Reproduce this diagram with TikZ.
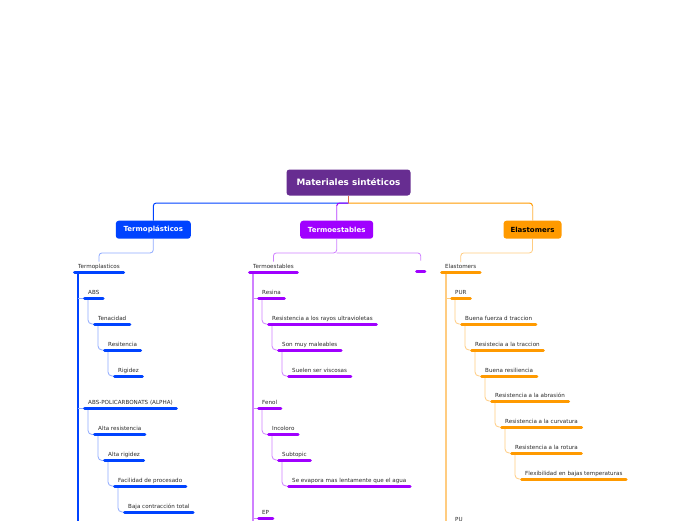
\documentclass[tikz,border=0pt]{standalone}
\usepackage{fontspec}
\setmainfont{DejaVu Sans}
\usetikzlibrary{calc}
\definecolor{rootc}{HTML}{672D91}
\definecolor{bluec}{HTML}{0043FF}
\definecolor{purc}{HTML}{A000FF}
\definecolor{orc}{HTML}{FF9A00}
\definecolor{lblue}{HTML}{8FAAFF}
\definecolor{lpur}{HTML}{CF80FF}
\definecolor{lor}{HTML}{FFCC80}
\definecolor{coral}{HTML}{DD6A4A}
\definecolor{txt}{HTML}{2A2A2A}
\tikzset{
  mainbox/.style={rounded corners=3pt, inner sep=0pt, minimum height=18pt,
    font=\fontsize{7}{8}\selectfont\bfseries},
  rootbox/.style={rounded corners=3pt, fill=rootc, text=white, inner sep=0pt,
    minimum width=124pt, minimum height=26pt, font=\fontsize{8.8}{10}\selectfont\bfseries},
  topic/.style={anchor=south west, inner xsep=5pt, inner ysep=2.3pt,
    text height=4.2pt, text depth=1.3pt, font=\fontsize{5.6}{6}\selectfont, text=txt},
  ul/.style={line width=3pt, line cap=round, shorten <=1.5pt, shorten >=1.5pt},
  thin/.style={line width=0.8pt},
}
\begin{document}
\begin{tikzpicture}[x=1pt,y=-1pt]
\useasboundingbox (0,0) rectangle (696,520);
\clip (0,0) rectangle (696,520);
\fill[white] (0,0) rectangle (696,520);

% main boxes
\node[rootbox] (root) at (348.5,182.5) {Materiales sintéticos};
\node[mainbox, fill=bluec, text=white, minimum width=75pt] (tp) at (153.3,229.7) {Termoplásticos};
\node[mainbox, fill=purc, text=white, minimum width=73pt] (te) at (336.7,229.7) {Termoestables};
\node[mainbox, fill=orc, text=black, minimum width=58pt] (el) at (532.5,229.7) {Elastomers};

\coordinate (hub) at (348.5,203);
\draw[bluec, line width=1pt, rounded corners=3pt] (tp.north) |- (hub);
\draw[purc, line width=1pt, rounded corners=3pt] (te.north) |- (hub);
\draw[lpur, line width=1pt] (te.north) -- ++(0,-15);
\draw[orc, line width=1pt, rounded corners=3pt] (el.north) |- (hub);
\draw[lor, line width=1pt] (el.north) -- ++(0,-15);
\draw[coral, line width=1.2pt] (root.south) -- (hub);

% Termoplasticos column
\node[topic] (tp0) at (73,272) {Termoplasticos};
\node[topic] (tp1) at (83,298) {ABS};
\node[topic] (tp2) at (93,324) {Tenacidad};
\node[topic] (tp3) at (103,350) {Resitencia};
\node[topic] (tp4) at (113,376) {Rigidez};
\node[topic] (tp5) at (83,408.5) {ABS-POLICARBONATS (ALPHA)};
\node[topic] (tp6) at (93,434.5) {Alta resistencia};
\node[topic] (tp7) at (103,460.5) {Alta rigidez};
\node[topic] (tp8) at (113,486) {Facilidad de procesado};
\node[topic] (tp9) at (123,512) {Baja contracción total};

% Termoestables column
\node[topic] (te0) at (248,272) {Termoestables};
\node[topic, minimum width=11pt, inner xsep=0pt] (teb) at (415,271) {};
\node[topic] (te1) at (257,298) {Resina};
\node[topic] (te2) at (267,324) {Resistencia a los rayos ultravioletas};
\node[topic] (te3) at (277,350) {Son muy maleables};
\node[topic] (te4) at (287,376) {Suelen ser viscosas};
\node[topic] (te5) at (257,408.3) {Fenol};
\node[topic] (te6) at (267,434.3) {Incoloro};
\node[topic] (te7) at (277,460) {Subtopic};
\node[topic] (te8) at (287,486) {Se evapora mas lentamente que el agua};
\node[topic] (te9) at (257,518.3) {EP};

% Elastomers column
\node[topic] (el0) at (440,272.5) {Elastomers};
\node[topic] (el1) at (450,298) {PUR};
\node[topic] (el2) at (460,324) {Buena fuerza d traccion};
\node[topic] (el3) at (470,350) {Resistecia a la traccion};
\node[topic] (el4) at (480,376) {Buena resiliencia};
\node[topic] (el5) at (490,401) {Resistencia a la abrasión};
\node[topic] (el6) at (500,427) {Resistencia a la curvatura};
\node[topic] (el7) at (510,453) {Resistencia a la rotura};
\node[topic] (el8) at (520,479) {Flexibilidad en bajas temperaturas};
\node[topic] (el9) at (450,525) {PU};

% connectors from boxes to column roots
\draw[lblue, thin, rounded corners=3pt] (tp.south) -- ++(0,14) -| (tp0.north);
\coordinate (tej) at ($(te.south)+(0,14)$);
\draw[lpur, thin, rounded corners=3pt] (te.south) -- (tej) -| (te0.north);
\draw[lpur, thin, rounded corners=3pt] (tej) -| (teb.north);
\draw[lor, thin, rounded corners=3pt] (el.south) -- ++(0,14) -| (el0.north);

% spines
\coordinate (tps) at ($(tp0.south west)+(5,0)$);
\coordinate (tpe) at ($(tp0.south west)+(5,270)$);
\coordinate (tes) at ($(te0.south west)+(5,0)$);
\coordinate (tee) at ($(te0.south west)+(5,270)$);
\coordinate (els) at ($(el0.south west)+(5.5,0)$);
\coordinate (ele) at ($(el0.south west)+(5.5,270)$);
\draw[bluec, line width=2pt] (tps) -- (tpe);
\draw[lpur, line width=2pt] (tes) -- (tee);
\draw[lor, line width=2pt] (els) -- (ele);

\foreach \c in {tp1,tp5} \draw[lblue, thin] (tps |- \c.south west) -- (\c.south west);
\foreach \c in {te1,te5,te9} \draw[lpur, thin] (tes |- \c.south west) -- (\c.south west);
\foreach \c in {el1,el9} \draw[lor, thin] (els |- \c.south west) -- (\c.south west);

% chains
\foreach \a/\b in {tp1/tp2,tp2/tp3,tp3/tp4,tp5/tp6,tp6/tp7,tp7/tp8,tp8/tp9}
  \draw[lblue, thin, rounded corners=4pt] ($(\a.south west)+(5,0)$) |- (\b.south west);
\foreach \a/\b in {te1/te2,te2/te3,te3/te4,te5/te6,te6/te7,te7/te8}
  \draw[lpur, thin, rounded corners=4pt] ($(\a.south west)+(5,0)$) |- (\b.south west);
\foreach \a/\b in {el1/el2,el2/el3,el3/el4,el4/el5,el5/el6,el6/el7,el7/el8}
  \draw[lor, thin, rounded corners=4pt] ($(\a.south west)+(5,0)$) |- (\b.south west);

% underlines
\foreach \n in {tp0,tp1,tp2,tp3,tp4,tp5,tp6,tp7,tp8,tp9}
  \draw[bluec, ul] (\n.south west) -- (\n.south east);
\foreach \n in {te0,teb,te1,te2,te3,te4,te5,te6,te7,te8,te9}
  \draw[purc, ul] (\n.south west) -- (\n.south east);
\foreach \n in {el0,el1,el2,el3,el4,el5,el6,el7,el8,el9}
  \draw[orc, ul] (\n.south west) -- (\n.south east);
\end{tikzpicture}
\end{document}
